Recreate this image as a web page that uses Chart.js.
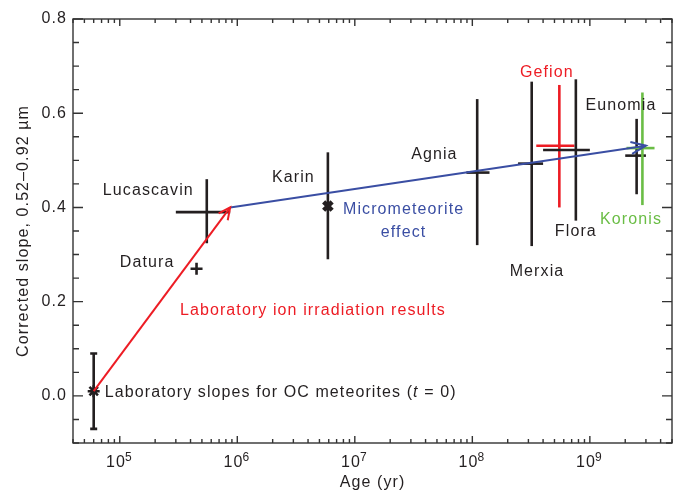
<!DOCTYPE html>
<html>
<head>
<meta charset="utf-8">
<script src="https://cdn.jsdelivr.net/npm/chart.js@4.4.1/dist/chart.umd.min.js"></script>
<style>
  body { margin: 0; background: #fff; }
  canvas { display: block; }
</style>
</head>
<body>
<canvas id="chart" width="676" height="495"></canvas>
<script>
// asteroid families: age (yr) and corrected spectral slope
const families = ['Lab OC', 'Datura', 'Lucascavin', 'Karin', 'Agnia', 'Merxia', 'Gefion', 'Flora', 'Eunomia', 'Koronis'];
const ages = [6.0e4, 4.5e5, 5.5e5, 5.9e6, 1.1e8, 3.2e8, 5.5e8, 7.6e8, 2.5e9, 2.8e9];
const slopes = [0.01, 0.27, 0.39, 0.403, 0.474, 0.493, 0.531, 0.522, 0.51, 0.526];
const slopeLow = [-0.07, null, 0.324, 0.29, 0.32, 0.318, 0.40, 0.372, 0.428, 0.405];
const slopeHigh = [0.09, null, 0.46, 0.517, 0.63, 0.667, 0.66, 0.672, 0.588, 0.644];
const ageLow = [null, null, 3.0e5, null, 8.9e7, 2.45e8, 3.5e8, 4.0e8, 2.0e9, 2.05e9];
const ageHigh = [null, null, 8.7e5, null, 1.4e8, 4.0e8, 7.4e8, 1.0e9, 3.0e9, 3.55e9];

// trend arrows
const ionAges = [6.0e4, 8.7e5];
const ionSlopes = [0.01, 0.40];
const microAges = [8.7e5, 3.0e9];
const microSlopes = [0.40, 0.531];

// axis ticks
const xTickValues = [1e5, 1e6, 1e7, 1e8, 1e9];
const yTickValues = [0.0, 0.2, 0.4, 0.6, 0.8];

const BLACK = '#231f20';
const RED = '#ed1c24';
const BLUE = '#3a4ea3';
const GREEN = '#6abd45';
const familyColors = [BLACK, BLACK, BLACK, BLACK, BLACK, BLACK, RED, BLACK, BLACK, GREEN];
const cappedBars = [true, false, false, false, false, false, false, false, false, false];

// text annotations in data coordinates
const notes = [
    { text: 'Lucascavin', x: 1.75e5, y: 0.435, color: BLACK },
    { text: 'Karin', x: 3.0e6, y: 0.464, color: BLACK },
    { text: 'Datura', x: 1.71e5, y: 0.283, color: BLACK },
    { text: 'Laboratory ion irradiation results', x: 4.4e6, y: 0.182, color: RED },
    { text: 'Micrometeorite', x: 2.6e7, y: 0.396, color: BLUE },
    { text: 'effect', x: 2.6e7, y: 0.347, color: BLUE },
    { text: 'Agnia', x: 4.75e7, y: 0.513, color: BLACK },
    { text: 'Gefion', x: 4.3e8, y: 0.687, color: RED },
    { text: 'Eunomia', x: 1.84e9, y: 0.616, color: BLACK },
    { text: 'Flora', x: 7.6e8, y: 0.349, color: BLACK },
    { text: 'Koronis', x: 2.24e9, y: 0.375, color: GREEN },
    { text: 'Merxia', x: 3.55e8, y: 0.264, color: BLACK }
];
const labNote = { x: 7.45e4, y: 0.007, parts: ['Laboratory slopes for OC meteorites (', 't', ' = 0)'] };

const FONT = "'Liberation Sans', Arial, Helvetica, sans-serif";

const spacingPlugin = {
    id: 'spacing',
    beforeDraw(chart) {
        chart.ctx.letterSpacing = '1.1px';
    }
};

const errorBarPlugin = {
    id: 'errorBars',
    beforeDatasetsDraw(chart) {
        const { ctx, scales: { x, y } } = chart;
        ctx.save();
        ctx.lineWidth = 2.6;
        ctx.lineCap = 'butt';
        for (let i = 0; i < families.length; i++) {
            ctx.strokeStyle = familyColors[i];
            const px = x.getPixelForValue(ages[i]);
            const py = y.getPixelForValue(slopes[i]);
            if (slopeLow[i] !== null) {
                const y1 = y.getPixelForValue(slopeLow[i]);
                const y2 = y.getPixelForValue(slopeHigh[i]);
                ctx.beginPath();
                ctx.moveTo(px, y1);
                ctx.lineTo(px, y2);
                if (cappedBars[i]) {
                    ctx.moveTo(px - 3.5, y1);
                    ctx.lineTo(px + 3.5, y1);
                    ctx.moveTo(px - 3.5, y2);
                    ctx.lineTo(px + 3.5, y2);
                }
                ctx.stroke();
            }
            if (ageLow[i] !== null) {
                ctx.beginPath();
                ctx.moveTo(x.getPixelForValue(ageLow[i]), py);
                ctx.lineTo(x.getPixelForValue(ageHigh[i]), py);
                ctx.stroke();
            }
        }
        ctx.restore();
    }
};

const arrowPlugin = {
    id: 'arrows',
    afterDatasetsDraw(chart) {
        const ctx = chart.ctx;
        [0, 1].forEach(di => {
            const pts = chart.getDatasetMeta(di).data;
            const a = pts[pts.length - 2], b = pts[pts.length - 1];
            const ang = Math.atan2(b.y - a.y, b.x - a.x);
            const len = di === 0 ? 13 : 16;
            const spread = di === 0 ? 0.45 : 0.38;
            ctx.save();
            ctx.strokeStyle = chart.data.datasets[di].borderColor;
            ctx.lineWidth = 2;
            ctx.beginPath();
            ctx.moveTo(b.x - len * Math.cos(ang - spread), b.y - len * Math.sin(ang - spread));
            ctx.lineTo(b.x, b.y);
            ctx.lineTo(b.x - len * Math.cos(ang + spread), b.y - len * Math.sin(ang + spread));
            ctx.stroke();
            ctx.restore();
        });
    }
};

const framePlugin = {
    id: 'frame',
    afterDraw(chart) {
        const { ctx, chartArea: a, scales: { x, y } } = chart;
        ctx.save();
        ctx.strokeStyle = '#333';
        ctx.lineWidth = 1.4;
        ctx.strokeRect(a.left, a.top, a.right - a.left, a.bottom - a.top);
        ctx.beginPath();
        // inward log ticks, bottom and top
        for (let e = 4; e <= 9; e++) {
            for (let m = 1; m <= 9; m++) {
                const v = m * Math.pow(10, e);
                if (v < x.min || v > x.max) continue;
                const px = x.getPixelForValue(v);
                const len = m === 1 ? 7 : 4;
                ctx.moveTo(px, a.bottom);
                ctx.lineTo(px, a.bottom - len);
                ctx.moveTo(px, a.top);
                ctx.lineTo(px, a.top + len);
            }
        }
        // inward y ticks, left and right
        for (let i = -2; i <= 16; i++) {
            const v = i * 0.05;
            if (v < y.min - 1e-9 || v > y.max + 1e-9) continue;
            const py = y.getPixelForValue(v);
            const len = i % 4 === 0 ? 10 : 6;
            ctx.moveTo(a.left, py);
            ctx.lineTo(a.left + len, py);
            ctx.moveTo(a.right, py);
            ctx.lineTo(a.right - len, py);
        }
        ctx.stroke();

        // x tick labels as 10 with superscript exponent
        ctx.fillStyle = BLACK;
        ctx.textBaseline = 'alphabetic';
        ctx.textAlign = 'left';
        xTickValues.forEach(v => {
            const px = x.getPixelForValue(v);
            const exp = String(Math.round(Math.log10(v)));
            ctx.font = '16px ' + FONT;
            const w1 = ctx.measureText('10').width;
            ctx.font = '12px ' + FONT;
            const w2 = ctx.measureText(exp).width;
            const start = px - (w1 + w2) / 2;
            ctx.font = '16px ' + FONT;
            ctx.fillText('10', start, a.bottom + 24);
            ctx.font = '12px ' + FONT;
            ctx.fillText(exp, start + w1 - 1, a.bottom + 18);
        });

        // annotations
        ctx.font = '16px ' + FONT;
        ctx.textAlign = 'center';
        ctx.textBaseline = 'middle';
        notes.forEach(n => {
            ctx.fillStyle = n.color;
            ctx.fillText(n.text, x.getPixelForValue(n.x), y.getPixelForValue(n.y));
        });
        ctx.textAlign = 'left';
        ctx.fillStyle = BLACK;
        let tx = x.getPixelForValue(labNote.x);
        const ty = y.getPixelForValue(labNote.y);
        labNote.parts.forEach((p, k) => {
            ctx.font = (k === 1 ? 'italic ' : '') + '16px ' + FONT;
            ctx.fillText(p, tx, ty);
            tx += ctx.measureText(p).width;
        });
        ctx.restore();
    }
};

const ctx = document.getElementById('chart').getContext('2d');
Chart.defaults.font.family = FONT;
Chart.defaults.font.size = 16;
Chart.defaults.color = BLACK;

new Chart(ctx, {
    type: 'scatter',
    data: {
        datasets: [
            {
                type: 'line',
                data: ionAges.map((a, i) => ({ x: a, y: ionSlopes[i] })),
                borderColor: RED,
                borderWidth: 2,
                pointRadius: 0,
                fill: false
            },
            {
                type: 'line',
                data: microAges.map((a, i) => ({ x: a, y: microSlopes[i] })),
                borderColor: BLUE,
                borderWidth: 2,
                pointRadius: 0,
                fill: false
            },
            {
                data: [{ x: ages[0], y: slopes[0] }],
                pointStyle: 'star',
                pointRadius: 6,
                borderWidth: 2.6,
                borderColor: BLACK,
                backgroundColor: BLACK
            },
            {
                data: [{ x: ages[1], y: slopes[1] }],
                pointStyle: 'cross',
                pointRadius: 6,
                borderWidth: 2.6,
                borderColor: BLACK
            },
            {
                data: [{ x: ages[3], y: slopes[3] }],
                pointStyle: 'crossRot',
                pointRadius: 6,
                borderWidth: 4.5,
                borderColor: BLACK
            }
        ]
    },
    options: {
        responsive: false,
        animation: false,
        layout: { autoPadding: false, padding: { top: 19, right: 4, left: 0, bottom: 0 } },
        plugins: {
            legend: { display: false },
            tooltip: { enabled: false }
        },
        scales: {
            x: {
                type: 'logarithmic',
                min: 4e4,
                max: 5e9,
                grid: { display: false, drawTicks: false },
                border: { display: false },
                ticks: { display: false },
                afterFit: s => { s.height = 52; },
                title: {
                    display: true,
                    text: 'Age (yr)',
                    font: { size: 16 },
                    color: BLACK,
                    padding: { top: 0, bottom: 3 }
                }
            },
            y: {
                min: -0.1,
                max: 0.8,
                grid: { display: false, drawTicks: false },
                border: { display: false },
                afterBuildTicks: s => { s.ticks = yTickValues.map(v => ({ value: v })); },
                afterFit: s => { s.width = 73; },
                ticks: {
                    padding: 6,
                    color: BLACK,
                    callback: v => v.toFixed(1)
                },
                title: {
                    display: true,
                    text: 'Corrected slope, 0.52–0.92 µm',
                    font: { size: 16 },
                    color: BLACK,
                    padding: { top: 14, bottom: 0 }
                }
            }
        }
    },
    plugins: [spacingPlugin, errorBarPlugin, arrowPlugin, framePlugin]
});
</script>
</body>
</html>
